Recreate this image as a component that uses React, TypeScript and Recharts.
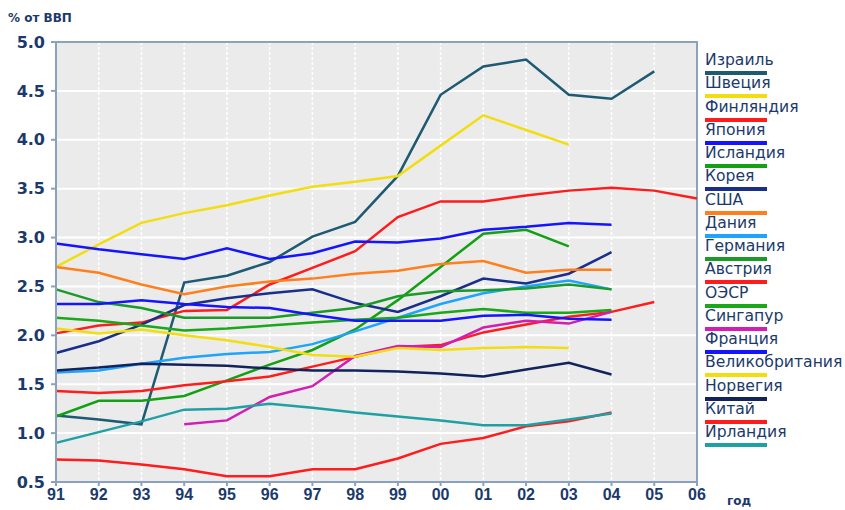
import React from 'react';
import { LineChart, Line, XAxis, YAxis, CartesianGrid, Legend, ReferenceArea } from 'recharts';

const years = ['91', '92', '93', '94', '95', '96', '97', '98', '99', '00', '01', '02', '03', '04', '05', '06'];
const yTicks = [0.5, 1.0, 1.5, 2.0, 2.5, 3.0, 3.5, 4.0, 4.5, 5.0];

const israel = [1.18, 1.14, 1.09, 2.54, 2.61, 2.75, 3.01, 3.16, 3.63, 4.46, 4.75, 4.82, 4.46, 4.42, 4.70, null];
const sweden = [2.7, 2.93, 3.15, 3.25, 3.33, 3.43, 3.52, 3.57, 3.63, 3.94, 4.25, 4.1, 3.95, null, null, null];
const finland = [2.02, 2.1, 2.13, 2.25, 2.26, 2.52, 2.69, 2.86, 3.21, 3.37, 3.37, 3.43, 3.48, 3.51, 3.48, 3.4];
const japan = [2.94, 2.88, 2.83, 2.78, 2.89, 2.78, 2.84, 2.96, 2.95, 2.99, 3.08, 3.11, 3.15, 3.13, null, null];
const iceland = [1.17, 1.33, 1.33, 1.38, 1.54, 1.7, 1.85, 2.06, 2.36, 2.7, 3.04, 3.08, 2.91, null, null, null];
const korea = [1.82, 1.94, 2.11, 2.31, 2.38, 2.43, 2.47, 2.33, 2.24, 2.4, 2.58, 2.53, 2.63, 2.85, null, null];
const usa = [2.7, 2.64, 2.52, 2.42, 2.5, 2.55, 2.58, 2.63, 2.66, 2.73, 2.76, 2.64, 2.67, 2.67, null, null];
const denmark = [1.62, 1.64, 1.71, 1.77, 1.81, 1.83, 1.91, 2.04, 2.18, 2.32, 2.43, 2.5, 2.56, 2.47, null, null];
const germany = [2.47, 2.34, 2.28, 2.18, 2.18, 2.18, 2.23, 2.28, 2.4, 2.45, 2.46, 2.48, 2.52, 2.47, null, null];
const austria = [1.43, 1.41, 1.43, 1.49, 1.53, 1.58, 1.68, 1.78, 1.88, 1.9, 2.03, 2.11, 2.19, 2.24, 2.34, null];
const oecd = [2.18, 2.15, 2.1, 2.05, 2.07, 2.1, 2.13, 2.16, 2.18, 2.23, 2.27, 2.23, 2.23, 2.26, null, null];
const singapore = [null, null, null, 1.09, 1.13, 1.37, 1.48, 1.79, 1.89, 1.88, 2.08, 2.15, 2.12, 2.24, null, null];
const france = [2.32, 2.32, 2.36, 2.32, 2.29, 2.28, 2.21, 2.15, 2.15, 2.15, 2.2, 2.21, 2.17, 2.16, null, null];
const uk = [2.07, 2.02, 2.06, 2.0, 1.95, 1.88, 1.8, 1.78, 1.87, 1.85, 1.87, 1.88, 1.87, null, null, null];
const norway = [1.64, 1.67, 1.71, 1.7, 1.69, 1.66, 1.64, 1.64, 1.63, 1.61, 1.58, 1.65, 1.72, 1.6, null, null];
const china = [0.73, 0.72, 0.68, 0.63, 0.56, 0.56, 0.63, 0.63, 0.74, 0.89, 0.95, 1.07, 1.12, 1.21, null, null];
const ireland = [0.9, 1.01, 1.12, 1.24, 1.25, 1.3, 1.26, 1.21, 1.17, 1.13, 1.08, 1.08, 1.14, 1.2, null, null];

const seriesList = [
  { key: 'israel', name: 'Израиль', color: '#1f5a73', values: israel },
  { key: 'sweden', name: 'Швеция', color: '#f2de10', values: sweden },
  { key: 'finland', name: 'Финляндия', color: '#ff1c1c', values: finland },
  { key: 'japan', name: 'Япония', color: '#1414ff', values: japan },
  { key: 'iceland', name: 'Исландия', color: '#14a014', values: iceland },
  { key: 'korea', name: 'Корея', color: '#1a2f8a', values: korea },
  { key: 'usa', name: 'США', color: '#ff7f1e', values: usa },
  { key: 'denmark', name: 'Дания', color: '#1ea4ff', values: denmark },
  { key: 'germany', name: 'Германия', color: '#1a9a28', values: germany },
  { key: 'austria', name: 'Австрия', color: '#ff1c1c', values: austria },
  { key: 'oecd', name: 'ОЭСР', color: '#18a818', values: oecd },
  { key: 'singapore', name: 'Сингапур', color: '#d21eb4', values: singapore },
  { key: 'france', name: 'Франция', color: '#1414ff', values: france },
  { key: 'uk', name: 'Великобритания', color: '#f2de10', values: uk },
  { key: 'norway', name: 'Норвегия', color: '#12235c', values: norway },
  { key: 'china', name: 'Китай', color: '#ff1c1c', values: china },
  { key: 'ireland', name: 'Ирландия', color: '#1fa0a4', values: ireland },
];

const data = years.map((y, i) => {
  const row: any = { year: y };
  seriesList.forEach((s) => {
    row[s.key] = s.values[i];
  });
  return row;
});

const TEXT = '#1b3a6b';
const AXIS = '#8aa2bd';

const LegendContent = () => (
  <div style={{ fontFamily: '"DejaVu Sans", Verdana, sans-serif', fontSize: 15.6, color: TEXT }}>
    {seriesList.map((s) => (
      <div key={s.key} style={{ height: 23.25, position: 'relative' }}>
        <div style={{ lineHeight: '17px', whiteSpace: 'nowrap' }}>{s.name}</div>
        <div style={{ position: 'absolute', left: 0, top: 19, width: 62, height: 4, background: s.color }} />
      </div>
    ))}
  </div>
);

export default function App() {
  return (
    <div style={{ position: 'absolute', left: 0, top: 0, width: 845, height: 510, background: '#ffffff' }}>
      <LineChart width={845} height={510} data={data} margin={{ top: 42, right: 148, bottom: 0, left: 0 }}>
        <CartesianGrid horizontal={false} vertical={true} stroke="#ffffff" strokeWidth={1.5} strokeDasharray="3 2" fill="#ebebeb" />
        <CartesianGrid horizontal={true} vertical={false} stroke="#ffffff" strokeWidth={2} />
        <XAxis
          dataKey="year"
          height={28}
          interval={0}
          stroke={AXIS}
          strokeWidth={2}
          tickSize={4}
          tickMargin={3}
          tick={{ fill: TEXT, fontSize: 16, fontWeight: 'bold', fontFamily: '"Liberation Sans", Arial, sans-serif' }}
          label={{
            content: () => (
              <text x={727} y={505} fill={TEXT} fontSize={12} fontWeight="bold" fontFamily='"DejaVu Sans", Verdana, sans-serif'>
                год
              </text>
            ),
          }}
        />
        <YAxis
          width={56}
          domain={[0.5, 5]}
          ticks={yTicks}
          interval={0}
          allowDataOverflow
          stroke={AXIS}
          strokeWidth={2}
          tickSize={5}
          tickMargin={6}
          tickFormatter={(v: number) => v.toFixed(1)}
          tick={{ fill: TEXT, fontSize: 16, fontWeight: 'bold', fontFamily: '"DejaVu Sans", Verdana, sans-serif' }}
          label={{
            content: () => (
              <text x={8} y={22} fill={TEXT} fontSize={12} fontWeight="bold" fontFamily='"DejaVu Sans", Verdana, sans-serif'>
                % от ВВП
              </text>
            ),
          }}
        />
        <ReferenceArea x1="91" x2="06" y1={0.5} y2={5} fill="none" stroke={AXIS} strokeWidth={2} />
        {seriesList.map((s) => (
          <Line
            key={s.key}
            type="linear"
            dataKey={s.key}
            name={s.name}
            stroke={s.color}
            strokeWidth={2.5}
            dot={false}
            activeDot={false}
            isAnimationActive={false}
          />
        ))}
        <Legend
          layout="horizontal"
          verticalAlign="middle"
          align="center"
          content={LegendContent}
          wrapperStyle={{ position: 'absolute', left: 705, top: 52, width: 140, height: 400 }}
        />
      </LineChart>
    </div>
  );
}
